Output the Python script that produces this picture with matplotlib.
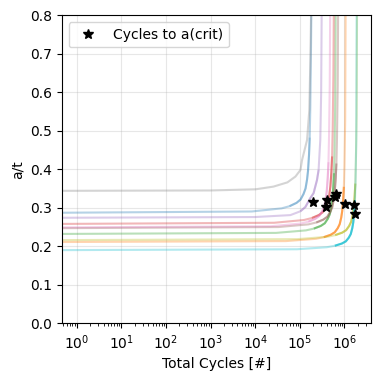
import matplotlib
matplotlib.use("Agg")
import matplotlib.pyplot as plt

# Curves (cycles, a/t), tab10 colour order
curve_colors = ["tab:blue", "tab:orange", "tab:green", "tab:red", "tab:purple",
                "tab:brown", "tab:pink", "tab:gray", "tab:olive", "tab:cyan"]

blue_N = [0.3, 8.35e3, 3.90e4, 5.89e4, 8.43e4, 1.036e5, 1.208e5, 1.340e5, 1.449e5, 1.524e5, 1.603e5, 1.663e5, 1.714e5, 1.778e5, 1.824e5]
blue_a = [0.287, 0.2904, 0.2985, 0.3042, 0.3128, 0.3214, 0.3358, 0.3501, 0.3731, 0.3961, 0.4362, 0.4822, 0.5597, 0.7175, 0.85]

orange_N = [0.3, 4.87e4, 2.275e5, 3.435e5, 4.92e5, 6.04e5, 7.05e5, 7.815e5, 8.45e5, 8.89e5, 9.35e5, 9.70e5, 1.000e6, 1.037e6, 1.064e6]
orange_a = [0.211, 0.2135, 0.2194, 0.2237, 0.2300, 0.2363, 0.2469, 0.2574, 0.2743, 0.2912, 0.3207, 0.3545, 0.4115, 0.5275, 0.85]

green_N = [0.3, 2.92e4, 1.362e5, 2.056e5, 2.945e5, 3.618e5, 4.22e5, 4.679e5, 5.06e5, 5.323e5, 5.60e5, 5.809e5, 5.99e5, 6.21e5, 6.37e5]
green_a = [0.232, 0.2348, 0.2413, 0.2459, 0.2529, 0.2598, 0.2714, 0.2830, 0.3016, 0.3202, 0.3526, 0.3898, 0.4524, 0.580, 0.85]

red_N = [0.3, 2.65e4, 1.238e5, 1.869e5, 2.677e5, 3.289e5, 3.834e5, 4.253e5, 4.60e5, 4.838e5, 5.09e5, 5.280e5, 5.44e5, 5.645e5, 5.79e5]
red_a = [0.258, 0.2611, 0.2683, 0.2735, 0.2812, 0.2890, 0.3019, 0.3148, 0.3354, 0.3560, 0.3922, 0.4334, 0.5031, 0.645, 0.85]

purple_N = [0.3, 1.0e4, 6.14e4, 1.03e5, 1.33e5, 1.71e5, 2.03e5, 2.42e5, 2.63e5, 2.87e5, 3.00e5, 3.10e5]
purple_a = [0.274, 0.276, 0.281, 0.291, 0.302, 0.325, 0.338, 0.372, 0.398, 0.476, 0.598, 0.85]

brown_N = [0.3, 3.31e4, 1.546e5, 2.334e5, 3.343e5, 4.107e5, 4.788e5, 5.310e5, 5.743e5, 6.041e5, 6.355e5, 6.594e5, 6.794e5, 7.049e5, 7.23e5]
brown_a = [0.247, 0.250, 0.2569, 0.2618, 0.2692, 0.2766, 0.289, 0.3013, 0.3211, 0.3409, 0.3754, 0.4150, 0.4817, 0.6175, 0.85]

pink_N = [0.3, 2.20e4, 1.026e5, 1.549e5, 2.22e5, 2.726e5, 3.179e5, 3.526e5, 3.813e5, 4.011e5, 4.219e5, 4.378e5, 4.511e5, 4.68e5, 4.80e5]
pink_a = [0.249, 0.252, 0.259, 0.2639, 0.2714, 0.2789, 0.2913, 0.3038, 0.3237, 0.3436, 0.3785, 0.4183, 0.4856, 0.6225, 0.85]

gray_N = [0.3, 1.0e3, 1.02e4, 2.56e4, 5.26e4, 7.94e4, 1.03e5, 1.12e5, 1.45e5, 1.63e5, 1.72e5, 1.81e5]
gray_a = [0.344, 0.345, 0.348, 0.355, 0.366, 0.381, 0.398, 0.424, 0.476, 0.554, 0.684, 0.85]

olive_N = [0.3, 8.79e4, 4.103e5, 6.194e5, 8.873e5, 1.090e6, 1.271e6, 1.4095e6, 1.524e6, 1.6035e6, 1.687e6, 1.750e6, 1.803e6, 1.871e6, 1.919e6]
olive_a = [0.216, 0.2186, 0.2246, 0.2290, 0.2354, 0.2419, 0.2527, 0.2635, 0.2808, 0.2981, 0.3283, 0.3629, 0.4212, 0.540, 0.85]

cyan_N = [0.3, 8.63e4, 4.028e5, 6.082e5, 8.712e5, 1.070e6, 1.248e6, 1.3838e6, 1.496e6, 1.574e6, 1.656e6, 1.718e6, 1.770e6, 1.837e6, 1.884e6]
cyan_a = [0.190, 0.1923, 0.1976, 0.2014, 0.2071, 0.2128, 0.2223, 0.2318, 0.247, 0.2622, 0.2888, 0.3192, 0.3705, 0.475, 0.85]

curves_N = [blue_N, orange_N, green_N, red_N, purple_N, brown_N, pink_N, gray_N, olive_N, cyan_N]
curves_a = [blue_a, orange_a, green_a, red_a, purple_a, brown_a, pink_a, gray_a, olive_a, cyan_a]
# extra opacity where the reference's dense markers pile up at the knee
knee_alpha = [0.25, 0.6, 0.45, 0.4, 0.25, 0.4, 0.3, 0.0, 0.6, 0.75]

# Critical points
crit_N = [1.93e5, 4.11e5, 3.85e5, 6.53e5, 6.2e5, 1.04e6, 1.62e6, 1.76e6]
crit_a = [0.316, 0.320, 0.301, 0.336, 0.328, 0.310, 0.308, 0.284]

fig = plt.figure(figsize=(3.81, 3.81), dpi=100)
ax = fig.add_axes([0.162, 0.1514, 0.812, 0.8086])

for N, a, c, ka in zip(curves_N, curves_a, curve_colors, knee_alpha):
    ax.plot(N, a, color=c, alpha=0.33, lw=1.5)
    if ka > 0:
        ax.plot(N[3:-3], a[3:-3], color=c, alpha=ka, lw=1.5, solid_capstyle="butt")

ax.plot(crit_N, crit_a, linestyle="none", marker="*", color="black",
        markersize=7, label="Cycles to a(crit)")

ax.set_xscale("log")
ax.set_xlim(0.46, 3.95e6)
ax.set_ylim(0, 0.8)
ax.set_yticks([0.0, 0.1, 0.2, 0.3, 0.4, 0.5, 0.6, 0.7, 0.8])
ax.grid(True, color="#b0b0b0", alpha=0.3, lw=0.8)
ax.set_axisbelow(True)
ax.set_xlabel("Total Cycles [#]", fontsize=10)
ax.set_ylabel("a/t", fontsize=10)
ax.tick_params(labelsize=10)
ax.legend(loc="upper left", fontsize=10)

fig.savefig("out.png", dpi=100)
